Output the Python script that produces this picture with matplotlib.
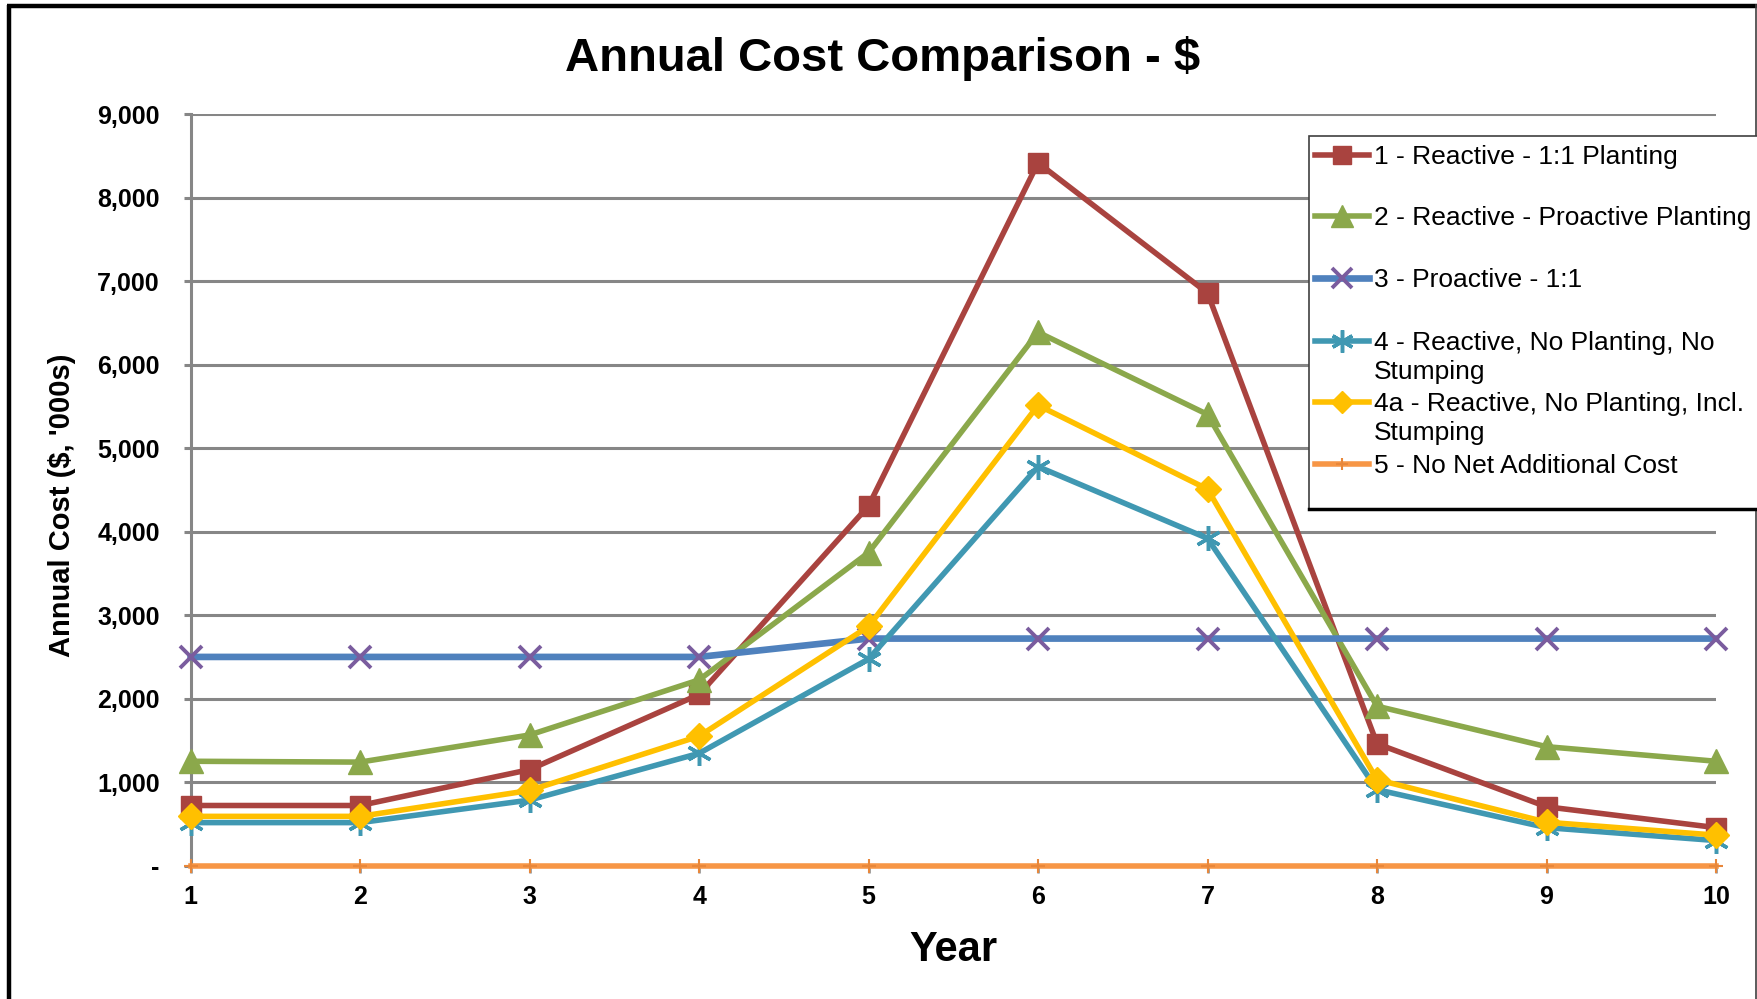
import matplotlib.pyplot as plt
from matplotlib.lines import Line2D
from matplotlib.patches import Rectangle
from matplotlib.ticker import FuncFormatter

plt.rcParams['font.family'] = ['Liberation Sans', 'DejaVu Sans']

years = [1, 2, 3, 4, 5, 6, 7, 8, 9, 10]

reactive_1to1 = [720, 720, 1150, 2050, 4310, 8420, 6860, 1460, 705, 455]
reactive_proactive = [1250, 1240, 1565, 2225, 3750, 6390, 5405, 1910, 1425, 1250]
proactive_1to1 = [2500, 2500, 2500, 2500, 2720, 2720, 2720, 2720, 2720, 2720]
no_planting_no_stump = [515, 515, 785, 1345, 2475, 4780, 3920, 910, 455, 300]
no_planting_stump = [590, 590, 900, 1550, 2865, 5515, 4510, 1030, 520, 365]
no_net_cost = [0, 0, 0, 0, 0, 0, 0, 0, 0, 0]

labels = [
    "1 - Reactive - 1:1 Planting",
    "2 - Reactive - Proactive Planting",
    "3 - Proactive - 1:1",
    "4 - Reactive, No Planting, No\nStumping",
    "4a - Reactive, No Planting, Incl.\nStumping",
    "5 - No Net Additional Cost",
]

# line colour, line width, marker, marker colour, marker size, marker edge width
styles = [
    ("#A9433F", 4.0, "s", "#A9433F", 15, 1),
    ("#8BA84B", 4.0, "^", "#8BA84B", 17, 1),
    ("#4F81BD", 4.8, "x", "#7A5C9E", 16, 2.8),
    ("#4098B2", 4.0, (6, 2, 0), "#4098B2", 18, 2.5),
    ("#FFC000", 4.0, "D", "#FFC000", 13, 1),
    ("#F79646", 4.0, "+", "#E8873A", 10, 1.5),
]

series = [reactive_1to1, reactive_proactive, proactive_1to1,
          no_planting_no_stump, no_planting_stump, no_net_cost]

W, H = 1758, 999
fig = plt.figure(figsize=(W / 100, H / 100), dpi=100)
ax = fig.add_axes([190.6 / W, 1 - 865.6 / H, (1716 - 190.6) / W, (865.6 - 114.4) / H])

grid_col = "#868686"
for vals, (lc, lw, mk, mc, ms, mew) in zip(series, styles):
    ax.plot(years, vals, color=lc, lw=lw, marker=mk, markersize=ms,
            markerfacecolor=mc, markeredgecolor=mc, markeredgewidth=mew,
            clip_on=False, zorder=3)

ax.set_xlim(1, 10)
ax.set_ylim(0, 9000)
ax.set_xticks(years)
ax.set_yticks(range(0, 9001, 1000))
ax.yaxis.set_major_formatter(FuncFormatter(lambda v, p: "-" if v == 0 else f"{int(v):,}"))
ax.grid(axis="y", color=grid_col, lw=2.2, zorder=0)
ax.set_axisbelow(True)
for s in ["top", "right", "bottom"]:
    ax.spines[s].set_visible(False)
ax.spines["left"].set_color(grid_col)
ax.spines["left"].set_linewidth(2.2)
ax.tick_params(axis="y", colors=grid_col, length=5.3, width=2.2, pad=17,
               labelcolor="black", labelsize=18)
ax.tick_params(axis="x", colors=grid_col, length=5, width=1.8, pad=9,
               labelcolor="black", labelsize=18)
for t in ax.get_xticklabels() + ax.get_yticklabels():
    t.set_fontweight("bold")

fig.text(883 / W, 1 - 71 / H, "Annual Cost Comparison - $", ha="center",
         va="baseline", fontsize=34, fontweight="bold")
fig.text(953 / W, 1 - 961 / H, "Year", ha="center", va="baseline",
         fontsize=30, fontweight="bold")
fig.text(62 / W, 1 - 505 / H, "Annual Cost ($, '000s)", ha="center", va="center",
         rotation=90, fontsize=21, fontweight="bold")

# overlay in pixel coordinates for the legend box and outer frame
ov = fig.add_axes([0, 0, 1, 1], facecolor="none")
ov.set_xlim(0, W)
ov.set_ylim(H, 0)
ov.axis("off")

ov.add_patch(Rectangle((1309, 136), 460, 373, facecolor="white",
                       edgecolor="#404040", lw=1.2, zorder=5))
ov.plot([1309, 1758], [509, 509], color="black", lw=2.5, zorder=6)

entry_y = [155, 216, 278, 341, 402, 464]
for y, lab, (lc, lw, mk, mc, ms, mew) in zip(entry_y, labels, styles):
    ov.add_line(Line2D([1315, 1369], [y, y], color=lc, lw=lw, zorder=7))
    ov.add_line(Line2D([1342], [y], marker=mk, markersize=ms * 0.9,
                       markerfacecolor=mc, markeredgecolor=mc,
                       markeredgewidth=mew, zorder=8))
    ov.text(1374, y - 10, lab, ha="left", va="top", fontsize=19,
            linespacing=1.28, zorder=8)

# outer frame: heavy on left and top, light on right
ov.plot([9, 9], [5, H], color="black", lw=3.2, solid_capstyle="butt")
ov.plot([7, W], [5.5, 5.5], color="black", lw=3.2, solid_capstyle="butt")
ov.plot([1756, 1756], [5, H], color="#404040", lw=1.2)

fig.savefig("out.png", dpi=100)
